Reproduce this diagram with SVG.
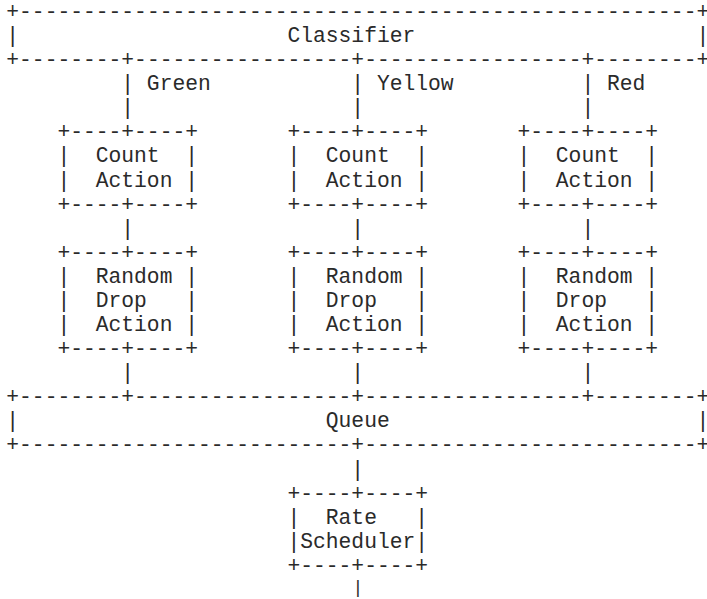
<svg xmlns="http://www.w3.org/2000/svg" width="707" height="599" viewBox="0 0 707 599">
<style>
text{font-family:"Liberation Mono","Courier New",monospace;font-size:21.3px;fill:#2a2a2a;white-space:pre;}
.e{letter-spacing:-4px;}
.s{font-size:18px;}
</style>
<rect width="707" height="599" fill="#fff"/>
<g id="classifier">
<text x="6.3" y="18">+-----------------------------------------------------<tspan class="e">+</tspan></text>
<text x="6.3" y="42.08">|                     Classifier                      <tspan class="e">|</tspan></text>
<text x="6.3" y="66.16">+--------+-----------------+-----------------+--------<tspan class="e">+</tspan></text>
</g>
<g id="count-green">
<text x="57.42" y="138.4">+----+----+</text>
<text x="57.42" y="162.48">|  Count  |</text>
<text x="57.42" y="186.56">|  Action |</text>
<text x="57.42" y="210.64">+----+----+</text>
</g>
<g id="count-yellow">
<text x="287.46" y="138.4">+----+----+</text>
<text x="287.46" y="162.48">|  Count  |</text>
<text x="287.46" y="186.56">|  Action |</text>
<text x="287.46" y="210.64">+----+----+</text>
</g>
<g id="count-red">
<text x="517.5" y="138.4">+----+----+</text>
<text x="517.5" y="162.48">|  Count  |</text>
<text x="517.5" y="186.56">|  Action |</text>
<text x="517.5" y="210.64">+----+----+</text>
</g>
<g id="drop-green">
<text x="57.42" y="258.8">+----+----+</text>
<text x="57.42" y="282.88">|  Random |</text>
<text x="57.42" y="306.96">|  Drop   |</text>
<text x="57.42" y="331.04">|  Action |</text>
<text x="57.42" y="355.12">+----+----+</text>
</g>
<g id="drop-yellow">
<text x="287.46" y="258.8">+----+----+</text>
<text x="287.46" y="282.88">|  Random |</text>
<text x="287.46" y="306.96">|  Drop   |</text>
<text x="287.46" y="331.04">|  Action |</text>
<text x="287.46" y="355.12">+----+----+</text>
</g>
<g id="drop-red">
<text x="517.5" y="258.8">+----+----+</text>
<text x="517.5" y="282.88">|  Random |</text>
<text x="517.5" y="306.96">|  Drop   |</text>
<text x="517.5" y="331.04">|  Action |</text>
<text x="517.5" y="355.12">+----+----+</text>
</g>
<g id="queue">
<text x="6.3" y="403.28">+--------+-----------------+-----------------+--------<tspan class="e">+</tspan></text>
<text x="6.3" y="427.36">|                        Queue                        <tspan class="e">|</tspan></text>
<text x="6.3" y="451.44">+--------------------------+--------------------------<tspan class="e">+</tspan></text>
</g>
<g id="scheduler">
<text x="287.46" y="499.6">+----+----+</text>
<text x="287.46" y="523.68">|  Rate   |</text>
<text x="287.46" y="547.76">|Scheduler|</text>
<text x="287.46" y="571.84">+----+----+</text>
</g>
<g id="connectors">
<text x="121.32" y="90.24">| Green</text>
<text x="351.36" y="90.24">| Yellow</text>
<text x="581.4" y="90.24">| Red</text>
<text x="121.32" y="114.32">|</text>
<text x="351.36" y="114.32">|</text>
<text x="581.4" y="114.32">|</text>
<text x="121.32" y="234.72">|</text>
<text x="351.36" y="234.72">|</text>
<text x="581.4" y="234.72">|</text>
<text x="121.32" y="379.2">|</text>
<text x="351.36" y="379.2">|</text>
<text x="581.4" y="379.2">|</text>
<text x="351.36" y="475.52">|</text>
<text class="s" x="352.5" y="593.4">|</text>
</g>
</svg>
